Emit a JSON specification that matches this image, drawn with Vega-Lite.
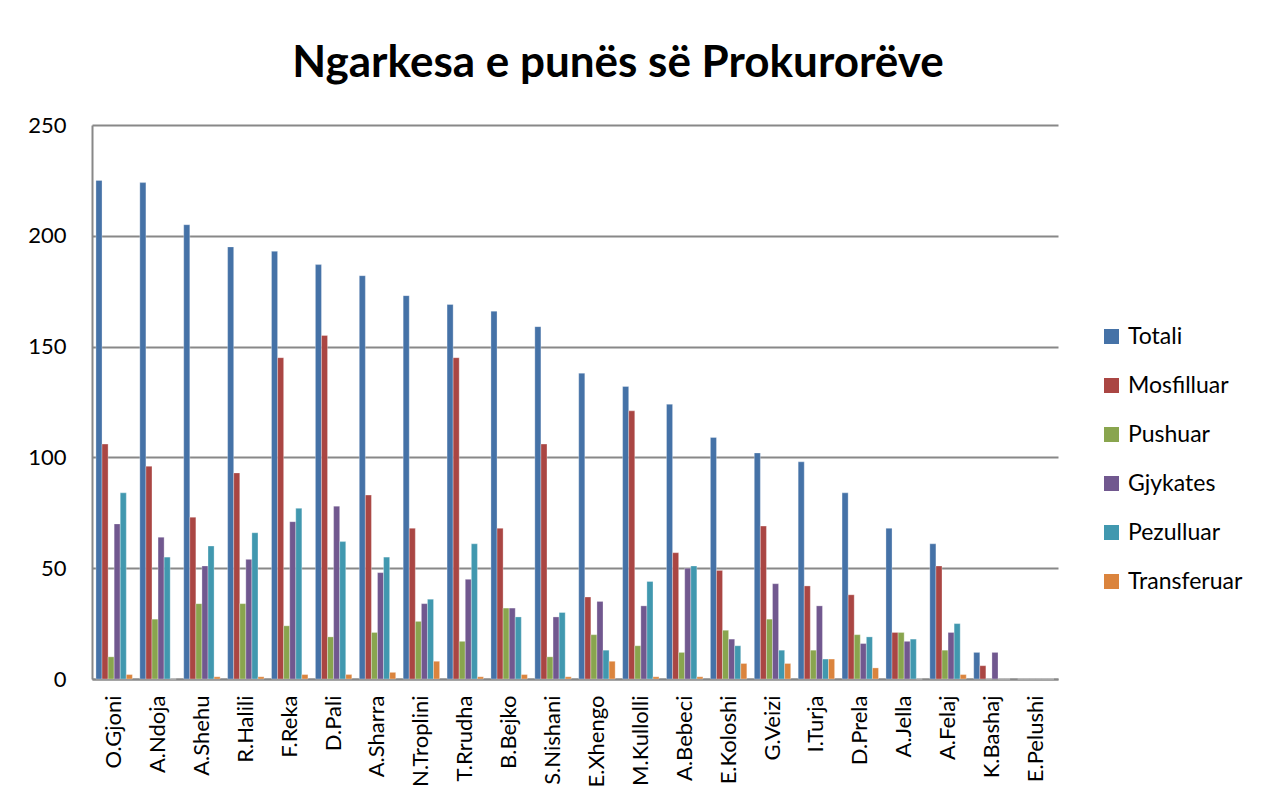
{
  "$schema": "https://vega.github.io/schema/vega-lite/v6.json",
  "width": 966,
  "height": 554,
  "autosize": {"type": "none"},
  "padding": {"left": 92, "top": 125, "right": 208, "bottom": 132},
  "background": "white",
  "title": {
    "text": "Ngarkesa e punës së Prokurorëve",
    "font": "Lato",
    "fontSize": 44,
    "fontWeight": "bold",
    "color": "black",
    "anchor": "middle",
    "dx": 43,
    "offset": 28
  },
  "config": {
    "view": {"stroke": null},
    "font": "Lato"
  },
  "data": {
    "values": [
      {"n":"O.Gjoni","s":"Totali","v":225},{"n":"O.Gjoni","s":"Mosfilluar","v":106},{"n":"O.Gjoni","s":"Pushuar","v":10},{"n":"O.Gjoni","s":"Gjykates","v":70},{"n":"O.Gjoni","s":"Pezulluar","v":84},{"n":"O.Gjoni","s":"Transferuar","v":2},
      {"n":"A.Ndoja","s":"Totali","v":224},{"n":"A.Ndoja","s":"Mosfilluar","v":96},{"n":"A.Ndoja","s":"Pushuar","v":27},{"n":"A.Ndoja","s":"Gjykates","v":64},{"n":"A.Ndoja","s":"Pezulluar","v":55},{"n":"A.Ndoja","s":"Transferuar","v":0},
      {"n":"A.Shehu","s":"Totali","v":205},{"n":"A.Shehu","s":"Mosfilluar","v":73},{"n":"A.Shehu","s":"Pushuar","v":34},{"n":"A.Shehu","s":"Gjykates","v":51},{"n":"A.Shehu","s":"Pezulluar","v":60},{"n":"A.Shehu","s":"Transferuar","v":1},
      {"n":"R.Halili","s":"Totali","v":195},{"n":"R.Halili","s":"Mosfilluar","v":93},{"n":"R.Halili","s":"Pushuar","v":34},{"n":"R.Halili","s":"Gjykates","v":54},{"n":"R.Halili","s":"Pezulluar","v":66},{"n":"R.Halili","s":"Transferuar","v":1},
      {"n":"F.Reka","s":"Totali","v":193},{"n":"F.Reka","s":"Mosfilluar","v":145},{"n":"F.Reka","s":"Pushuar","v":24},{"n":"F.Reka","s":"Gjykates","v":71},{"n":"F.Reka","s":"Pezulluar","v":77},{"n":"F.Reka","s":"Transferuar","v":2},
      {"n":"D.Pali","s":"Totali","v":187},{"n":"D.Pali","s":"Mosfilluar","v":155},{"n":"D.Pali","s":"Pushuar","v":19},{"n":"D.Pali","s":"Gjykates","v":78},{"n":"D.Pali","s":"Pezulluar","v":62},{"n":"D.Pali","s":"Transferuar","v":2},
      {"n":"A.Sharra","s":"Totali","v":182},{"n":"A.Sharra","s":"Mosfilluar","v":83},{"n":"A.Sharra","s":"Pushuar","v":21},{"n":"A.Sharra","s":"Gjykates","v":48},{"n":"A.Sharra","s":"Pezulluar","v":55},{"n":"A.Sharra","s":"Transferuar","v":3},
      {"n":"N.Troplini","s":"Totali","v":173},{"n":"N.Troplini","s":"Mosfilluar","v":68},{"n":"N.Troplini","s":"Pushuar","v":26},{"n":"N.Troplini","s":"Gjykates","v":34},{"n":"N.Troplini","s":"Pezulluar","v":36},{"n":"N.Troplini","s":"Transferuar","v":8},
      {"n":"T.Rrudha","s":"Totali","v":169},{"n":"T.Rrudha","s":"Mosfilluar","v":145},{"n":"T.Rrudha","s":"Pushuar","v":17},{"n":"T.Rrudha","s":"Gjykates","v":45},{"n":"T.Rrudha","s":"Pezulluar","v":61},{"n":"T.Rrudha","s":"Transferuar","v":1},
      {"n":"B.Bejko","s":"Totali","v":166},{"n":"B.Bejko","s":"Mosfilluar","v":68},{"n":"B.Bejko","s":"Pushuar","v":32},{"n":"B.Bejko","s":"Gjykates","v":32},{"n":"B.Bejko","s":"Pezulluar","v":28},{"n":"B.Bejko","s":"Transferuar","v":2},
      {"n":"S.Nishani","s":"Totali","v":159},{"n":"S.Nishani","s":"Mosfilluar","v":106},{"n":"S.Nishani","s":"Pushuar","v":10},{"n":"S.Nishani","s":"Gjykates","v":28},{"n":"S.Nishani","s":"Pezulluar","v":30},{"n":"S.Nishani","s":"Transferuar","v":1},
      {"n":"E.Xhengo","s":"Totali","v":138},{"n":"E.Xhengo","s":"Mosfilluar","v":37},{"n":"E.Xhengo","s":"Pushuar","v":20},{"n":"E.Xhengo","s":"Gjykates","v":35},{"n":"E.Xhengo","s":"Pezulluar","v":13},{"n":"E.Xhengo","s":"Transferuar","v":8},
      {"n":"M.Kullolli","s":"Totali","v":132},{"n":"M.Kullolli","s":"Mosfilluar","v":121},{"n":"M.Kullolli","s":"Pushuar","v":15},{"n":"M.Kullolli","s":"Gjykates","v":33},{"n":"M.Kullolli","s":"Pezulluar","v":44},{"n":"M.Kullolli","s":"Transferuar","v":1},
      {"n":"A.Bebeci","s":"Totali","v":124},{"n":"A.Bebeci","s":"Mosfilluar","v":57},{"n":"A.Bebeci","s":"Pushuar","v":12},{"n":"A.Bebeci","s":"Gjykates","v":50},{"n":"A.Bebeci","s":"Pezulluar","v":51},{"n":"A.Bebeci","s":"Transferuar","v":1},
      {"n":"E.Koloshi","s":"Totali","v":109},{"n":"E.Koloshi","s":"Mosfilluar","v":49},{"n":"E.Koloshi","s":"Pushuar","v":22},{"n":"E.Koloshi","s":"Gjykates","v":18},{"n":"E.Koloshi","s":"Pezulluar","v":15},{"n":"E.Koloshi","s":"Transferuar","v":7},
      {"n":"G.Veizi","s":"Totali","v":102},{"n":"G.Veizi","s":"Mosfilluar","v":69},{"n":"G.Veizi","s":"Pushuar","v":27},{"n":"G.Veizi","s":"Gjykates","v":43},{"n":"G.Veizi","s":"Pezulluar","v":13},{"n":"G.Veizi","s":"Transferuar","v":7},
      {"n":"I.Turja","s":"Totali","v":98},{"n":"I.Turja","s":"Mosfilluar","v":42},{"n":"I.Turja","s":"Pushuar","v":13},{"n":"I.Turja","s":"Gjykates","v":33},{"n":"I.Turja","s":"Pezulluar","v":9},{"n":"I.Turja","s":"Transferuar","v":9},
      {"n":"D.Prela","s":"Totali","v":84},{"n":"D.Prela","s":"Mosfilluar","v":38},{"n":"D.Prela","s":"Pushuar","v":20},{"n":"D.Prela","s":"Gjykates","v":16},{"n":"D.Prela","s":"Pezulluar","v":19},{"n":"D.Prela","s":"Transferuar","v":5},
      {"n":"A.Jella","s":"Totali","v":68},{"n":"A.Jella","s":"Mosfilluar","v":21},{"n":"A.Jella","s":"Pushuar","v":21},{"n":"A.Jella","s":"Gjykates","v":17},{"n":"A.Jella","s":"Pezulluar","v":18},{"n":"A.Jella","s":"Transferuar","v":0},
      {"n":"A.Felaj","s":"Totali","v":61},{"n":"A.Felaj","s":"Mosfilluar","v":51},{"n":"A.Felaj","s":"Pushuar","v":13},{"n":"A.Felaj","s":"Gjykates","v":21},{"n":"A.Felaj","s":"Pezulluar","v":25},{"n":"A.Felaj","s":"Transferuar","v":2},
      {"n":"K.Bashaj","s":"Totali","v":12},{"n":"K.Bashaj","s":"Mosfilluar","v":6},{"n":"K.Bashaj","s":"Pushuar","v":0},{"n":"K.Bashaj","s":"Gjykates","v":12},{"n":"K.Bashaj","s":"Pezulluar","v":0},{"n":"K.Bashaj","s":"Transferuar","v":0},
      {"n":"E.Pelushi","s":"Totali","v":0},{"n":"E.Pelushi","s":"Mosfilluar","v":0},{"n":"E.Pelushi","s":"Pushuar","v":0},{"n":"E.Pelushi","s":"Gjykates","v":0},{"n":"E.Pelushi","s":"Pezulluar","v":0},{"n":"E.Pelushi","s":"Transferuar","v":0}
    ]
  },
  "mark": {"type": "bar", "stroke": "white", "strokeWidth": 0.5, "strokeOpacity": 0.6},
  "encoding": {
    "x": {
      "field": "n",
      "type": "nominal",
      "sort": null,
      "title": null,
      "scale": {"paddingInner": 0.17, "paddingOuter": 0.09},
      "axis": {
        "labelAngle": -90,
        "labelFont": "Lato",
        "labelFontSize": 22,
        "labelColor": "black",
        "labelPadding": 16,
        "ticks": false,
        "domainColor": "#888888",
        "domainWidth": 2
      }
    },
    "xOffset": {
      "field": "s",
      "type": "nominal",
      "sort": ["Totali", "Mosfilluar", "Pushuar", "Gjykates", "Pezulluar", "Transferuar"],
      "scale": {"paddingInner": 0, "paddingOuter": 0}
    },
    "y": {
      "field": "v",
      "type": "quantitative",
      "title": null,
      "scale": {"domain": [0, 250], "nice": false},
      "axis": {
        "values": [0, 50, 100, 150, 200, 250],
        "labelFont": "Lato",
        "labelFontSize": 22,
        "labelColor": "black",
        "labelPadding": 26,
        "ticks": false,
        "grid": true,
        "gridColor": "#888888",
        "gridWidth": 2,
        "domainColor": "#888888",
        "domainWidth": 2
      }
    },
    "color": {
      "field": "s",
      "type": "nominal",
      "sort": ["Totali", "Mosfilluar", "Pushuar", "Gjykates", "Pezulluar", "Transferuar"],
      "scale": {
        "domain": ["Totali", "Mosfilluar", "Pushuar", "Gjykates", "Pezulluar", "Transferuar"],
        "range": ["#4572A7", "#AA4643", "#89A54E", "#71588F", "#4198AF", "#DB843D"]
      },
      "legend": {
        "title": null,
        "orient": "none",
        "legendX": 1008,
        "legendY": 200,
        "symbolType": "square",
        "symbolSize": 225,
        "symbolStrokeWidth": 0,
        "labelFont": "Lato",
        "labelFontSize": 23,
        "labelColor": "black",
        "labelOffset": 5,
        "rowPadding": 25
      }
    }
  }
}
